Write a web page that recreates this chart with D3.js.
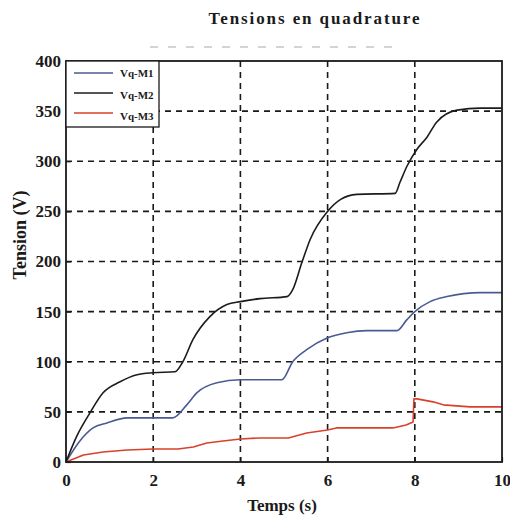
<!DOCTYPE html>
<html>
<head>
<meta charset="utf-8">
<script src="https://cdn.jsdelivr.net/npm/d3@7"></script>
<style>
  body { margin: 0; background: #fff; }
  svg { display: block; }
  text { font-family: "Liberation Serif", "DejaVu Serif", serif; font-weight: bold; fill: #1a1a1a; }
</style>
</head>
<body>
<div id="chart"></div>
<script>
// series
const tM1 = [0, 0.3, 0.62, 0.94, 1.4, 2.0, 2.45, 2.77, 3.0, 3.46, 4.0, 4.95, 5.2, 5.52, 6.0, 6.44, 6.9, 7.59, 7.82, 8.0, 8.35, 8.74, 9.5, 10];
const vM1 = [0, 20, 34, 39, 44, 44, 44, 57, 69, 79, 82, 82, 100, 112, 124, 129, 131, 131, 142, 150, 160, 165, 169, 169];

const tM2 = [0, 0.25, 0.55, 0.85, 1.24, 1.63, 2.0, 2.5, 2.68, 2.91, 3.3, 3.69, 4.0, 4.45, 5.07, 5.2, 5.41, 5.6, 6.0, 6.3, 6.67, 7.55, 7.66, 7.82, 8.05, 8.28, 8.5, 8.97, 9.5, 10];
const vM2 = [0, 26, 49, 69, 80, 87, 89, 90, 100, 122, 145, 157, 160, 163, 165, 172, 199, 222, 250, 262, 267, 268, 279, 295, 312, 324, 339, 351, 353, 353];

const tM3 = [0, 0.4, 0.85, 1.4, 2.0, 2.57, 2.92, 3.23, 3.6, 4.0, 4.45, 5.1, 5.52, 6.0, 6.2, 7.5, 7.8, 7.96, 7.98, 8.05, 8.42, 8.65, 9.27, 10];
const vM3 = [0, 7, 10, 12, 13, 13, 15, 19, 21, 23, 24, 24, 29, 32, 34, 34, 37, 40, 63, 63, 60, 57, 55, 55];

const seriesNames = ["Vq-M1", "Vq-M2", "Vq-M3"];
const xTicks = [0, 2, 4, 6, 8, 10];
const yTicks = [0, 50, 100, 150, 200, 250, 300, 350, 400];

const colors = ["#4a5b94", "#1c1c1c", "#d8412c"];

const width = 510, height = 520;
const plotL = 66, plotR = 502, plotT = 61, plotB = 462;

const svg = d3.select("#chart").append("svg")
  .attr("width", width)
  .attr("height", height);

const x = d3.scaleLinear().domain([0, 10]).range([plotL, plotR]);
const y = d3.scaleLinear().domain([0, 400]).range([plotB, plotT]);

// title and the faint dashed strip above the frame
svg.append("text")
  .attr("x", 315).attr("y", 24)
  .attr("text-anchor", "middle")
  .attr("font-size", 17)
  .attr("letter-spacing", 1.9)
  .text("Tensions en quadrature");

svg.append("line")
  .attr("x1", 150).attr("x2", 402).attr("y1", 47).attr("y2", 47)
  .attr("stroke", "#aaa").attr("stroke-width", 1.2)
  .attr("stroke-dasharray", "8,10");

// grid
const grid = svg.append("g")
  .attr("stroke", "#1a1a1a")
  .attr("stroke-width", 1.6)
  .attr("stroke-dasharray", "6,5");

grid.selectAll("line.gx")
  .data(xTicks.slice(1, -1))
  .enter().append("line")
  .attr("class", "gx")
  .attr("x1", d => x(d)).attr("x2", d => x(d))
  .attr("y1", plotT).attr("y2", plotB);

grid.selectAll("line.gy")
  .data(yTicks.slice(1, -1))
  .enter().append("line")
  .attr("class", "gy")
  .attr("x1", plotL).attr("x2", plotR)
  .attr("y1", d => y(d)).attr("y2", d => y(d));

// axes
const xAxis = svg.append("g")
  .attr("transform", "translate(0," + plotB + ")")
  .call(d3.axisBottom(x).tickValues(xTicks).tickFormat(d3.format("d"))
    .tickSizeInner(-5).tickSizeOuter(0).tickPadding(12));

const yAxis = svg.append("g")
  .attr("transform", "translate(" + plotL + ",0)")
  .call(d3.axisLeft(y).tickValues(yTicks).tickFormat(d3.format("d"))
    .tickSizeInner(-5).tickSizeOuter(0).tickPadding(5));

[xAxis, yAxis].forEach(ax => {
  ax.select(".domain").remove();
  ax.selectAll("line").attr("stroke", "#1a1a1a").attr("stroke-width", 1.2);
  ax.selectAll("text")
    .attr("font-size", 17)
    .attr("font-family", "Liberation Serif, serif")
    .attr("font-weight", "bold")
    .attr("fill", "#1a1a1a");
});

// curves
const series = [
  { t: tM1, v: vM1, curve: d3.curveMonotoneX },
  { t: tM2, v: vM2, curve: d3.curveMonotoneX },
  { t: tM3, v: vM3, curve: d3.curveLinear }
];

series.forEach((s, i) => {
  const pts = s.t.map((t, k) => [t, s.v[k]]);
  const line = d3.line()
    .x(d => x(d[0]))
    .y(d => y(d[1]))
    .curve(s.curve);
  svg.append("path")
    .datum(pts)
    .attr("fill", "none")
    .attr("stroke", colors[i])
    .attr("stroke-width", 1.6)
    .attr("stroke-linejoin", "round")
    .attr("d", line);
});

// frame
svg.append("rect")
  .attr("x", plotL).attr("y", plotT)
  .attr("width", plotR - plotL).attr("height", plotB - plotT)
  .attr("fill", "none")
  .attr("stroke", "#1a1a1a")
  .attr("stroke-width", 1.8);

// legend
const legend = svg.append("g");
legend.append("rect")
  .attr("x", plotL).attr("y", plotT)
  .attr("width", 93).attr("height", 66)
  .attr("fill", "#fff")
  .attr("stroke", "#1a1a1a")
  .attr("stroke-width", 1.3);

const legRows = [73, 93, 113];
seriesNames.forEach((name, i) => {
  legend.append("line")
    .attr("x1", 74).attr("x2", 113)
    .attr("y1", legRows[i]).attr("y2", legRows[i])
    .attr("stroke", colors[i]).attr("stroke-width", 1.6);
  legend.append("text")
    .attr("x", 120).attr("y", legRows[i] + 4 + i * 1.5)
    .attr("font-size", 11)
    .attr("fill", "#333")
    .text(name);
});

// axis titles
svg.append("text")
  .attr("x", 282).attr("y", 511)
  .attr("text-anchor", "middle")
  .attr("font-size", 17)
  .text("Temps (s)");

svg.append("text")
  .attr("transform", "translate(26,235) rotate(-90)")
  .attr("text-anchor", "middle")
  .attr("font-size", 18)
  .text("Tension (V)");
</script>
</body>
</html>
